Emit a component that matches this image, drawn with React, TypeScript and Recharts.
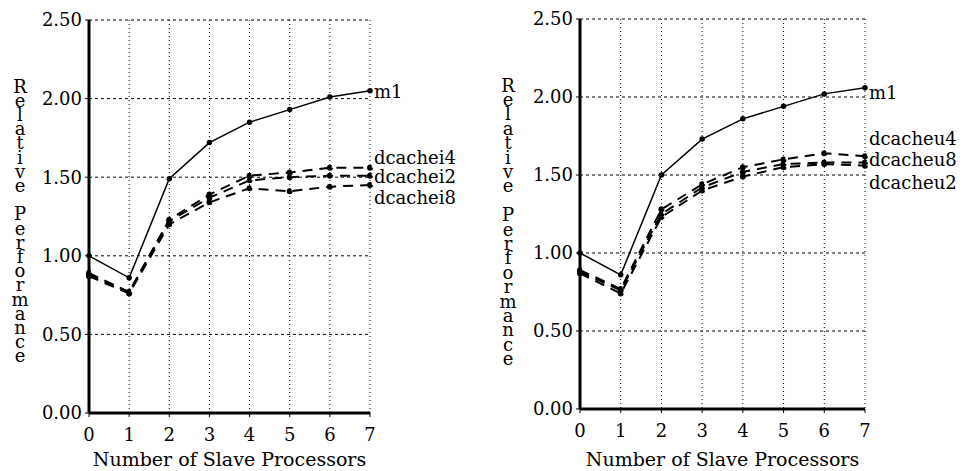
import React from 'react';
import { LineChart, Line, XAxis, YAxis, CartesianGrid } from 'recharts';

const processors = [0, 1, 2, 3, 4, 5, 6, 7];
const yTicks = [0, 0.5, 1, 1.5, 2, 2.5];

// left panel
const m1Left = [1.0, 0.86, 1.49, 1.72, 1.85, 1.93, 2.01, 2.05];
const dcachei4 = [0.89, 0.77, 1.23, 1.39, 1.51, 1.53, 1.56, 1.56];
const dcachei2 = [0.88, 0.77, 1.22, 1.37, 1.48, 1.5, 1.51, 1.51];
const dcachei8 = [0.87, 0.76, 1.2, 1.34, 1.43, 1.41, 1.44, 1.45];

// right panel
const m1Right = [1.0, 0.86, 1.5, 1.73, 1.86, 1.94, 2.02, 2.06];
const dcacheu4 = [0.89, 0.77, 1.28, 1.44, 1.55, 1.6, 1.64, 1.62];
const dcacheu8 = [0.88, 0.76, 1.25, 1.42, 1.52, 1.57, 1.58, 1.58];
const dcacheu2 = [0.87, 0.74, 1.23, 1.4, 1.49, 1.55, 1.57, 1.56];

const FONT = '"DejaVu Serif", "Liberation Serif", serif';
const Y_TITLE = 'Relative Performance';

interface SeriesDef {
    key: string;
    values: number[];
    dashed: boolean;
    labelDy: number;
}

interface PanelProps {
    left: number;
    width: number;
    top: number;
    right: number;
    axisWidth: number;
    xAxisHeight: number;
    titleX: number;
    titleY: number;
    titleStep: number;
    series: SeriesDef[];
}

const endLabel = (name: string, dy: number, last: number) => (props: any) => {
    const { x, y, index } = props;
    if (index !== last) return null;
    return (
        <text x={x + 4} y={y + dy} dominantBaseline="central" fontFamily={FONT} fontSize={18} fill="#000">
            {name}
        </text>
    );
};

const Panel: React.FC<PanelProps> = ({ left, width, top, right, axisWidth, xAxisHeight, titleX, titleY, titleStep, series }) => {
    const data = processors.map((p, i) => {
        const row: any = { p };
        series.forEach(s => { row[s.key] = s.values[i]; });
        return row;
    });
    const last = processors.length - 1;

    return (
        <div style={{ position: 'absolute', left, top: 0, width, height: 471 }}>
            <LineChart width={width} height={471} data={data} margin={{ top, right, bottom: 0, left: 0 }}>
                <CartesianGrid horizontal={true} vertical={false} stroke="#000" strokeDasharray="3 3" />
                <CartesianGrid horizontal={false} vertical={true} stroke="#000" strokeDasharray="1 3" />
                <XAxis
                    dataKey="p"
                    type="number"
                    domain={[0, 7]}
                    ticks={processors}
                    height={xAxisHeight}
                    axisLine={{ stroke: '#000', strokeWidth: 3 }}
                    tickLine={{ stroke: '#000' }}
                    tickSize={4}
                    tickMargin={11}
                    tick={{ fontFamily: FONT, fontSize: 18, fill: '#000' }}
                    label={{ value: 'Number of Slave Processors', position: 'insideBottom', offset: 5, fontFamily: FONT, fontSize: 19, fill: '#000' }}
                />
                <YAxis
                    type="number"
                    domain={[0, 2.5]}
                    ticks={yTicks}
                    width={axisWidth}
                    axisLine={{ stroke: '#000', strokeWidth: 3 }}
                    tickLine={{ stroke: '#000' }}
                    tickSize={4}
                    tickMargin={3}
                    tickFormatter={(v: number) => v.toFixed(2)}
                    tick={{ fontFamily: FONT, fontSize: 18, fill: '#000' }}
                />
                {series.map(s => (
                    <Line
                        key={s.key}
                        dataKey={s.key}
                        type="linear"
                        stroke="#000"
                        strokeWidth={s.dashed ? 2 : 1.5}
                        strokeDasharray={s.dashed ? '10 7' : undefined}
                        dot={{ r: 2, fill: '#000', stroke: '#000' }}
                        label={endLabel(s.key, s.labelDy, last)}
                        isAnimationActive={false}
                    />
                ))}
            </LineChart>
            <svg width={40} height={471} style={{ position: 'absolute', left: titleX - 20, top: 0 }}>
                {Y_TITLE.split('').map((ch, i) => (
                    <text
                        key={i}
                        x={20}
                        y={titleY + i * titleStep}
                        textAnchor="middle"
                        dominantBaseline="central"
                        fontFamily={FONT}
                        fontSize={18}
                        fill="#000"
                    >
                        {ch}
                    </text>
                ))}
            </svg>
        </div>
    );
};

const leftSeries: SeriesDef[] = [
    { key: 'm1', values: m1Left, dashed: false, labelDy: 1 },
    { key: 'dcachei4', values: dcachei4, dashed: true, labelDy: -10 },
    { key: 'dcachei2', values: dcachei2, dashed: true, labelDy: 1 },
    { key: 'dcachei8', values: dcachei8, dashed: true, labelDy: 12 },
];

const rightSeries: SeriesDef[] = [
    { key: 'm1', values: m1Right, dashed: false, labelDy: 5 },
    { key: 'dcacheu4', values: dcacheu4, dashed: true, labelDy: -18 },
    { key: 'dcacheu8', values: dcacheu8, dashed: true, labelDy: -3 },
    { key: 'dcacheu2', values: dcacheu2, dashed: true, labelDy: 17 },
];

export default function App() {
    return (
        <div style={{ position: 'absolute', left: 0, top: 0, width: 965, height: 471, background: '#fff' }}>
            <Panel
                left={0}
                width={480}
                top={20}
                right={110}
                axisWidth={89}
                xAxisHeight={58}
                titleX={20}
                titleY={86}
                titleStep={14.2}
                series={leftSeries}
            />
            <Panel
                left={480}
                width={485}
                top={19}
                right={100}
                axisWidth={100}
                xAxisHeight={62}
                titleX={28}
                titleY={85}
                titleStep={14.4}
                series={rightSeries}
            />
        </div>
    );
}
